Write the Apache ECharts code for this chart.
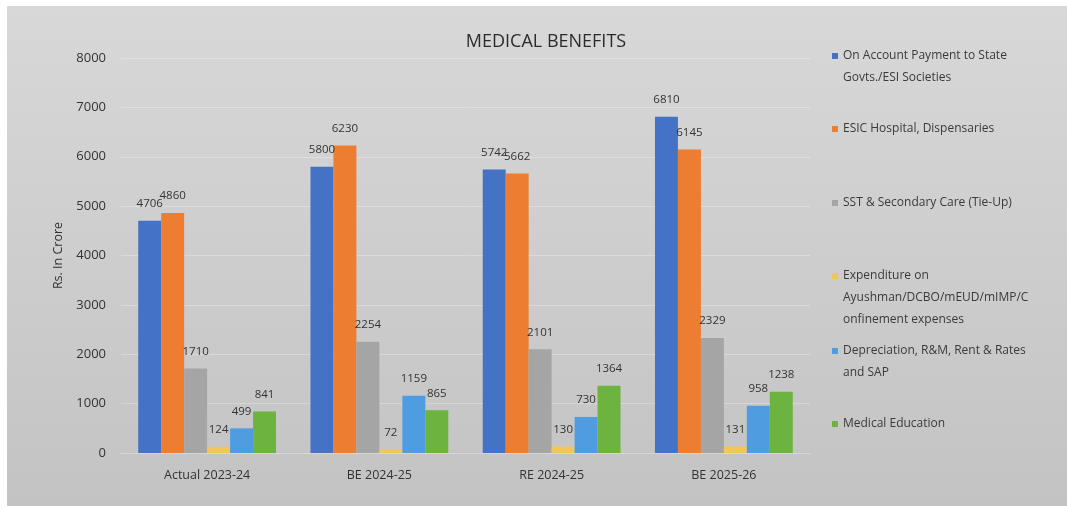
<!DOCTYPE html>
<html>
<head>
<meta charset="utf-8">
<title>Medical Benefits</title>
<script src="https://cdn.jsdelivr.net/npm/echarts@6/dist/echarts.min.js"></script>
<style>
  html, body { margin: 0; padding: 0; background: #ffffff; }
  #chart { width: 1067px; height: 510px; }
</style>
</head>
<body>
<div id="chart"></div>
<script>
// Categories (budget stages) and the six spending heads, Rs. in crore
const categories = ['Actual 2023-24', 'BE 2024-25', 'RE 2024-25', 'BE 2025-26'];

const seriesNames = [
  'On Account Payment to State Govts./ESI Societies',
  'ESIC Hospital, Dispensaries',
  'SST & Secondary Care (Tie-Up)',
  'Expenditure on Ayushman/DCBO/mEUD/mIMP/Confinement expenses',
  'Depreciation, R&M, Rent & Rates and SAP',
  'Medical Education'
];

// Legend text as wrapped in the legend column
const legendLines = [
  ['On Account Payment to State', 'Govts./ESI Societies'],
  ['ESIC Hospital, Dispensaries'],
  ['SST & Secondary Care (Tie-Up)'],
  ['Expenditure on', 'Ayushman/DCBO/mEUD/mIMP/C', 'onfinement expenses'],
  ['Depreciation, R&M, Rent & Rates', 'and SAP'],
  ['Medical Education']
];

const stateGovtsPayment   = [4706, 5800, 5742, 6810];
const esicHospitals       = [4860, 6230, 5662, 6145];
const sstSecondaryCare    = [1710, 2254, 2101, 2329];
const ayushmanExpenditure = [124, 72, 130, 131];
const depreciationRent    = [499, 1159, 730, 958];
const medicalEducation    = [841, 865, 1364, 1238];

const yTicks = [0, 1000, 2000, 3000, 4000, 5000, 6000, 7000, 8000];

const seriesValues = [
  stateGovtsPayment, esicHospitals, sstSecondaryCare,
  ayushmanExpenditure, depreciationRent, medicalEducation
];
const colors = ['#4472c4', '#ed7d31', '#a5a5a5', '#f2c75a', '#4f9de0', '#6db33f'];

const FONT = '"Open Sans", "Liberation Sans", sans-serif';
const LINE_H = 22;
// first-line centre of each legend entry
const legendFirstLine = [56, 129, 203, 276, 351, 424];

const legends = seriesNames.map((name, i) => {
  const n = legendLines[i].length;
  // blank lines above the text keep the swatch level with the first line
  const text = ' \n'.repeat(n - 1) + legendLines[i].join('\n');
  return {
    orient: 'vertical',
    left: 832,
    top: legendFirstLine[i] - (2 * n - 1) * LINE_H / 2,
    padding: 0,
    icon: 'rect',
    itemWidth: 6,
    itemHeight: 6,
    itemGap: 0,
    data: [name],
    selectedMode: false,
    formatter: () => text,
    textStyle: {
      fontFamily: FONT,
      fontSize: 12,
      color: '#3a3a3a',
      lineHeight: LINE_H
    }
  };
});

const chart = echarts.init(document.getElementById('chart'), null, { renderer: 'canvas' });

chart.setOption({
  animation: false,
  backgroundColor: '#ffffff',
  color: colors,
  graphic: [{
    type: 'rect',
    z: -10,
    silent: true,
    shape: { x: 7, y: 6, width: 1060, height: 500 },
    style: {
      fill: new echarts.graphic.LinearGradient(0, 0, 0, 1, [
        { offset: 0, color: '#d8d8d8' },
        { offset: 1, color: '#c3c3c3' }
      ])
    }
  }],
  title: {
    text: 'MEDICAL BENEFITS',
    left: 541,
    top: 28,
    textAlign: 'center',
    textStyle: { fontFamily: FONT, fontSize: 18, fontWeight: 'normal', color: '#2b2b2b' }
  },
  legend: legends,
  grid: { left: 121, right: 257, top: 58, bottom: 57 },
  xAxis: {
    type: 'category',
    data: categories,
    axisTick: { show: false },
    axisLine: { show: true, lineStyle: { color: '#d6d6d6', width: 1 } },
    axisLabel: { fontFamily: FONT, fontSize: 12.5, color: '#333333', margin: 16 }
  },
  yAxis: {
    type: 'value',
    min: yTicks[0],
    max: yTicks[yTicks.length - 1],
    interval: yTicks[1] - yTicks[0],
    name: 'Rs. In Crore',
    nameLocation: 'middle',
    nameGap: 48,
    nameTextStyle: { fontFamily: FONT, fontSize: 12.5, color: '#333333' },
    axisLine: { show: false },
    axisTick: { show: false },
    axisLabel: {
      fontFamily: FONT, fontSize: 13, color: '#333333', margin: 15,
      formatter: (v) => String(v)
    },
    splitLine: { lineStyle: { color: 'rgba(255,255,255,0.28)', width: 1 } }
  },
  series: seriesNames.map((name, i) => ({
    name: name,
    type: 'bar',
    data: seriesValues[i],
    barGap: '0%',
    barCategoryGap: '20%',
    label: {
      show: true,
      position: 'top',
      distance: 11,
      fontFamily: FONT,
      fontSize: 11.5,
      color: '#333333'
    }
  }))
});
</script>
</body>
</html>
